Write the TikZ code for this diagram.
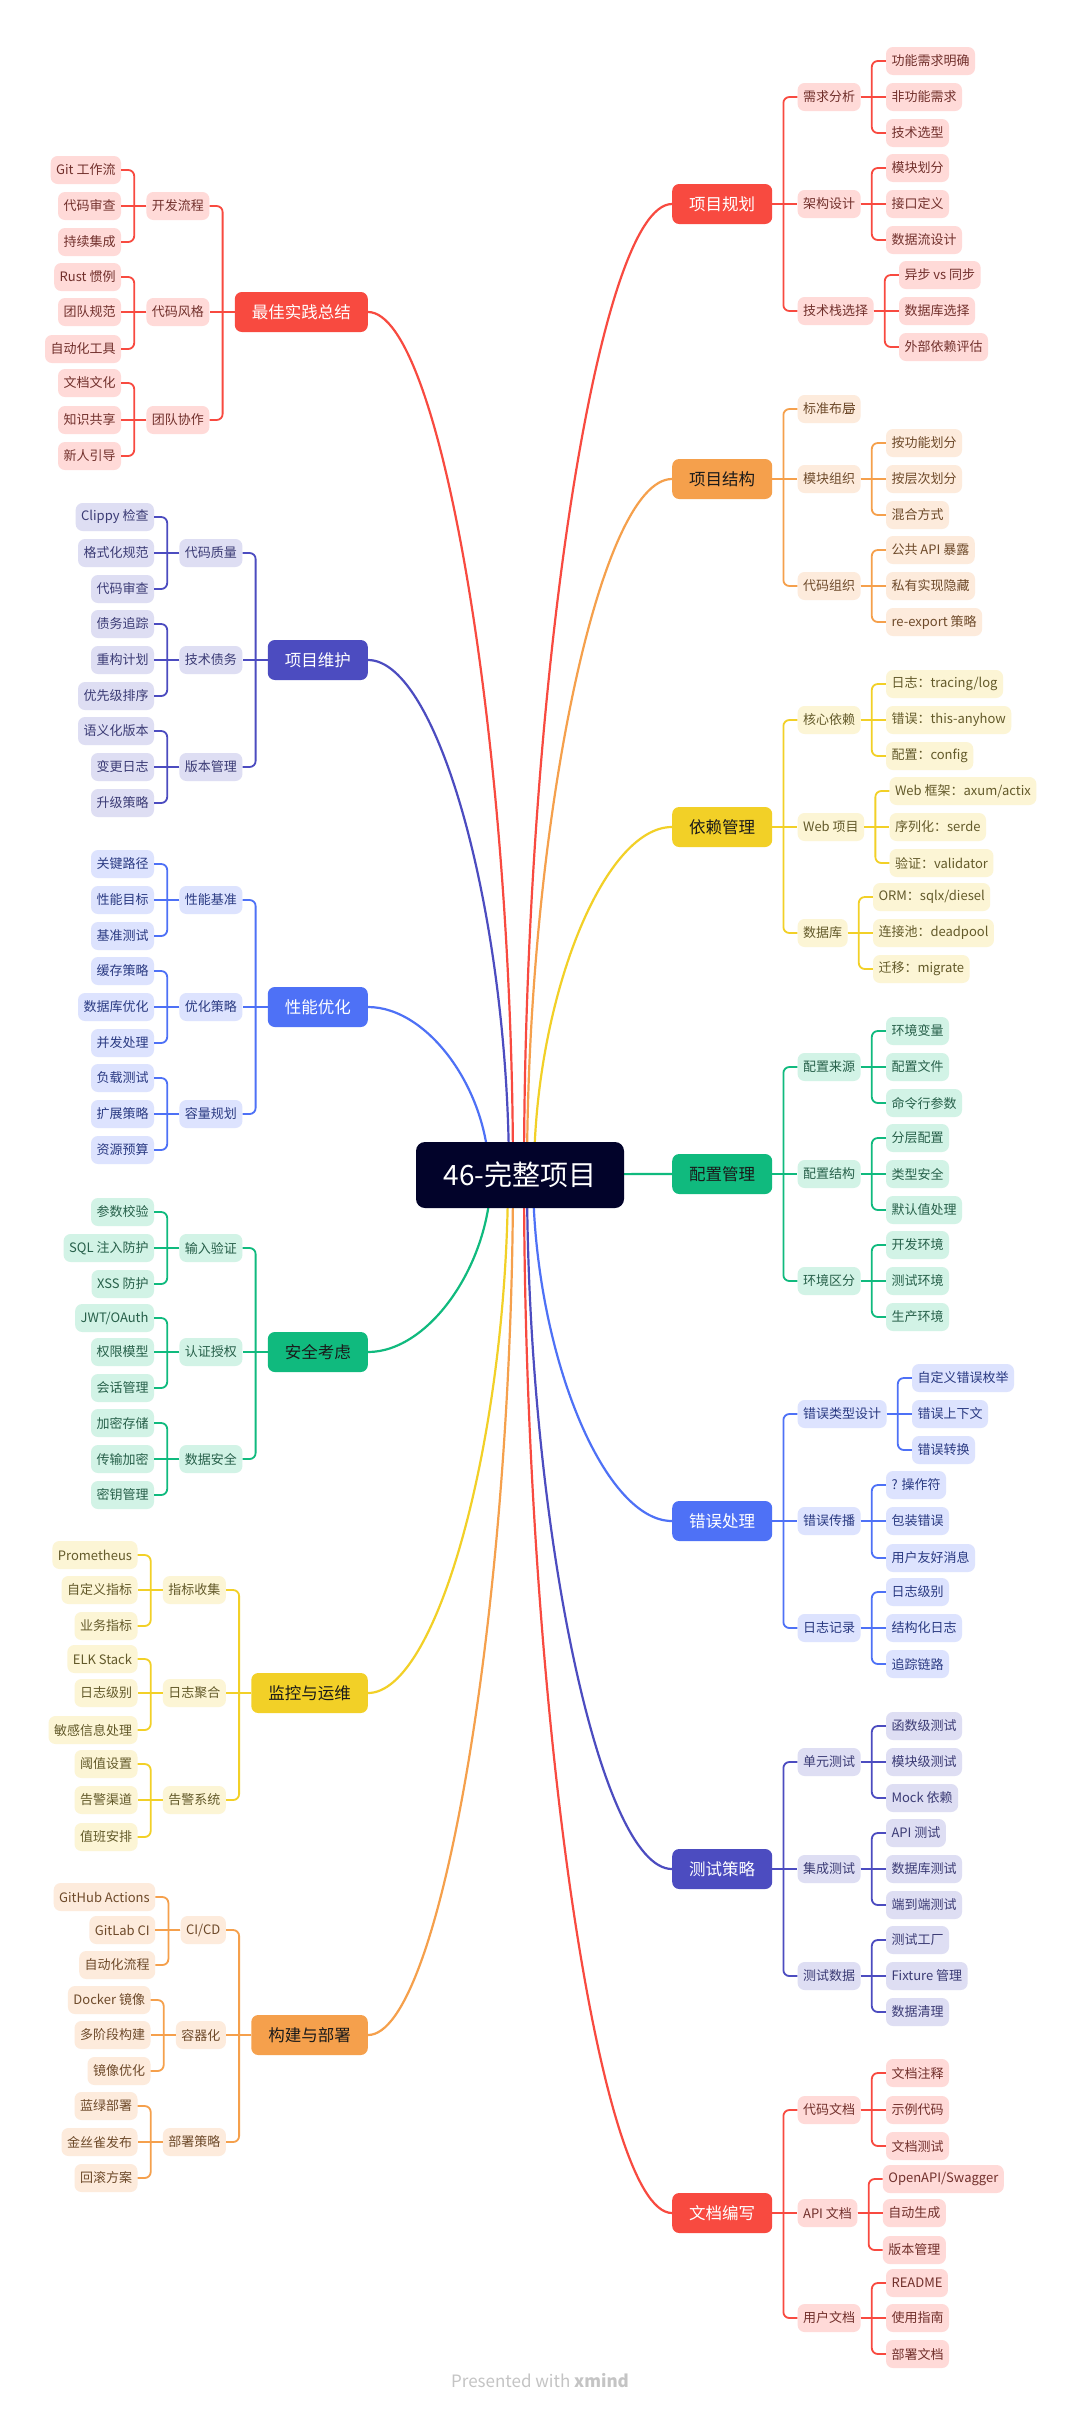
\documentclass[tikz,border=0pt]{standalone}
\usepackage{fontspec}
\setmainfont{Noto Sans CJK SC}
\usetikzlibrary{calc}
\definecolor{redM}{HTML}{F84A40}\definecolor{redL}{HTML}{FFDAD8}\definecolor{redT}{HTML}{72302C}\colorlet{redW}{white}
\definecolor{orangeM}{HTML}{F5A04C}\definecolor{orangeL}{HTML}{FDEBDC}\definecolor{orangeT}{HTML}{6E4A2A}\definecolor{orangeW}{HTML}{1A1A1A}
\definecolor{yellowM}{HTML}{F2D027}\definecolor{yellowL}{HTML}{FCF5D5}\definecolor{yellowT}{HTML}{635A2A}\definecolor{yellowW}{HTML}{1A1A1A}
\definecolor{greenM}{HTML}{10BA7E}\definecolor{greenL}{HTML}{D2F3E6}\definecolor{greenT}{HTML}{27604A}\definecolor{greenW}{HTML}{1A1A1A}
\definecolor{blueM}{HTML}{4E71F6}\definecolor{blueL}{HTML}{DDE3FE}\definecolor{blueT}{HTML}{2A3A82}\colorlet{blueW}{white}
\definecolor{indigoM}{HTML}{4C4CC0}\definecolor{indigoL}{HTML}{DEDEF3}\definecolor{indigoT}{HTML}{3B3B75}\colorlet{indigoW}{white}
\definecolor{rootC}{HTML}{02032A}
\definecolor{footC}{HTML}{C4C4C4}
\tikzset{
  mainbox/.style={rounded corners=7pt,minimum height=40pt,inner xsep=17pt,inner ysep=0pt,font=\fontsize{16.5pt}{19pt}\selectfont},
  subbox/.style={rounded corners=7pt,minimum height=28pt,inner xsep=5.5pt,inner ysep=0pt,font=\fontsize{13pt}{15pt}\selectfont},
  rootbox/.style={rounded corners=9pt,minimum width=208pt,minimum height=66pt,fill=rootC,text=white,font=\fontsize{28pt}{32pt}\selectfont},
  curve/.style={line width=2.2pt},
  branch/.style={line width=1.8pt},
}
\newcommand\mainy{0}
\newcommand\suby{0}
% right side: name, y, colour, text, start x
\newcommand\MR[5]{%
  \node[mainbox,fill=#3M,text=#3W,anchor=west] (#1) at (672,#2) {#4};
  \gdef\mainy{#2}%
  \coordinate (s#1) at (#5,1175);
  \path ($(s#1)!0.5!(#1.west)$) coordinate (mid);
  \draw[curve,#3M] (s#1) .. controls (s#1 |- mid) and (mid |- #1.west) .. (#1.west);
}
\newcommand\CR[5]{%
  \path (#2.east) ++(25,0) coordinate (tmp);
  \node[subbox,fill=#4L,text=#4T,anchor=west] (#1) at (tmp |- 0,#3) {#5};
  \gdef\suby{#3}%
  \ifdim #3pt=\mainy pt
    \draw[branch,#4M] (#2.east) -- (#1.west);
  \else
    \draw[branch,#4M] (#2.east) -- ++(11,0);
    \draw[branch,#4M,rounded corners=6pt] ([xshift=11pt]#2.east) |- (#1.west);
  \fi
}
\newcommand\GR[5]{%
  \path (#2.east) ++(25,0) coordinate (tmp);
  \node[subbox,fill=#4L,text=#4T,anchor=west] (#1) at (tmp |- 0,#3) {#5};
  \ifdim #3pt=\suby pt
    \draw[branch,#4M] (#2.east) -- (#1.west);
  \else
    \draw[branch,#4M] (#2.east) -- ++(11,0);
    \draw[branch,#4M,rounded corners=6pt] ([xshift=11pt]#2.east) |- (#1.west);
  \fi
}
% left side
\newcommand\ML[5]{%
  \node[mainbox,fill=#3M,text=#3W,anchor=east] (#1) at (368,#2) {#4};
  \gdef\mainy{#2}%
  \coordinate (s#1) at (#5,1175);
  \path ($(s#1)!0.5!(#1.east)$) coordinate (mid);
  \draw[curve,#3M] (s#1) .. controls (s#1 |- mid) and (mid |- #1.east) .. (#1.east);
}
\newcommand\CL[5]{%
  \path (#2.west) ++(-25,0) coordinate (tmp);
  \node[subbox,fill=#4L,text=#4T,anchor=east] (#1) at (tmp |- 0,#3) {#5};
  \gdef\suby{#3}%
  \ifdim #3pt=\mainy pt
    \draw[branch,#4M] (#2.west) -- (#1.east);
  \else
    \draw[branch,#4M] (#2.west) -- ++(-12,0);
    \draw[branch,#4M,rounded corners=6pt] ([xshift=-12pt]#2.west) |- (#1.east);
  \fi
}
\newcommand\GL[5]{%
  \path (#2.west) ++(-25,0) coordinate (tmp);
  \node[subbox,fill=#4L,text=#4T,anchor=east] (#1) at (tmp |- 0,#3) {#5};
  \ifdim #3pt=\suby pt
    \draw[branch,#4M] (#2.west) -- (#1.east);
  \else
    \draw[branch,#4M] (#2.west) -- ++(-12,0);
    \draw[branch,#4M,rounded corners=6pt] ([xshift=-12pt]#2.west) |- (#1.east);
  \fi
}
\begin{document}
\begin{tikzpicture}[x=1pt,y=-1pt]
\fill[white] (0,0) rectangle (1080,2415);
\useasboundingbox (0,0) rectangle (1080,2415);
\coordinate (rc) at (520,1175);

% ===== right side =====
\MR{r1}{204}{red}{项目规划}{524}
\CR{r1a}{r1}{97}{red}{需求分析}
\GR{r1a1}{r1a}{61}{red}{功能需求明确}
\GR{r1a2}{r1a}{97}{red}{非功能需求}
\GR{r1a3}{r1a}{133}{red}{技术选型}
\CR{r1b}{r1}{204}{red}{架构设计}
\GR{r1b1}{r1b}{168}{red}{模块划分}
\GR{r1b2}{r1b}{204}{red}{接口定义}
\GR{r1b3}{r1b}{240}{red}{数据流设计}
\CR{r1c}{r1}{311}{red}{技术栈选择}
\GR{r1c1}{r1c}{275}{red}{异步 vs 同步}
\GR{r1c2}{r1c}{311}{red}{数据库选择}
\GR{r1c3}{r1c}{347}{red}{外部依赖评估}

\MR{r2}{479}{orange}{项目结构}{527}
\CR{r2a}{r2}{409}{orange}{标准布局\hspace{17pt}}
\draw[orangeT,line width=1pt] ([xshift=-16pt,yshift=4pt]r2a.east) -- ++(10,0);
\draw[orangeT,line width=1pt] ([xshift=-16pt,yshift=0pt]r2a.east) -- ++(10,0);
\draw[orangeT,line width=1pt] ([xshift=-16pt,yshift=-4pt]r2a.east) -- ++(7,0);
\CR{r2b}{r2}{479}{orange}{模块组织}
\GR{r2b1}{r2b}{443}{orange}{按功能划分}
\GR{r2b2}{r2b}{479}{orange}{按层次划分}
\GR{r2b3}{r2b}{515}{orange}{混合方式}
\CR{r2c}{r2}{586}{orange}{代码组织}
\GR{r2c1}{r2c}{550}{orange}{公共 API 暴露}
\GR{r2c2}{r2c}{586}{orange}{私有实现隐藏}
\GR{r2c3}{r2c}{622}{orange}{re-export 策略}

\MR{r3}{827}{yellow}{依赖管理}{534}
\CR{r3a}{r3}{720}{yellow}{核心依赖}
\GR{r3a1}{r3a}{684}{yellow}{日志：tracing/log}
\GR{r3a2}{r3a}{720}{yellow}{错误：this-anyhow}
\GR{r3a3}{r3a}{756}{yellow}{配置：config}
\CR{r3b}{r3}{827}{yellow}{Web 项目}
\GR{r3b1}{r3b}{791}{yellow}{Web 框架：axum/actix}
\GR{r3b2}{r3b}{827}{yellow}{序列化：serde}
\GR{r3b3}{r3b}{863}{yellow}{验证：validator}
\CR{r3c}{r3}{933}{yellow}{数据库}
\GR{r3c1}{r3c}{897}{yellow}{ORM：sqlx/diesel}
\GR{r3c2}{r3c}{933}{yellow}{连接池：deadpool}
\GR{r3c3}{r3c}{969}{yellow}{迁移：migrate}

\MR{r4}{1174}{green}{配置管理}{560}
\CR{r4a}{r4}{1067}{green}{配置来源}
\GR{r4a1}{r4a}{1031}{green}{环境变量}
\GR{r4a2}{r4a}{1067}{green}{配置文件}
\GR{r4a3}{r4a}{1103}{green}{命令行参数}
\CR{r4b}{r4}{1174}{green}{配置结构}
\GR{r4b1}{r4b}{1138}{green}{分层配置}
\GR{r4b2}{r4b}{1174}{green}{类型安全}
\GR{r4b3}{r4b}{1210}{green}{默认值处理}
\CR{r4c}{r4}{1281}{green}{环境区分}
\GR{r4c1}{r4c}{1245}{green}{开发环境}
\GR{r4c2}{r4c}{1281}{green}{测试环境}
\GR{r4c3}{r4c}{1317}{green}{生产环境}

\MR{r5}{1521}{blue}{错误处理}{533}
\CR{r5a}{r5}{1414}{blue}{错误类型设计}
\GR{r5a1}{r5a}{1378}{blue}{自定义错误枚举}
\GR{r5a2}{r5a}{1414}{blue}{错误上下文}
\GR{r5a3}{r5a}{1450}{blue}{错误转换}
\CR{r5b}{r5}{1521}{blue}{错误传播}
\GR{r5b1}{r5b}{1485}{blue}{? 操作符}
\GR{r5b2}{r5b}{1521}{blue}{包装错误}
\GR{r5b3}{r5b}{1558}{blue}{用户友好消息}
\CR{r5c}{r5}{1628}{blue}{日志记录}
\GR{r5c1}{r5c}{1592}{blue}{日志级别}
\GR{r5c2}{r5c}{1628}{blue}{结构化日志}
\GR{r5c3}{r5c}{1664}{blue}{追踪链路}

\MR{r6}{1869}{indigo}{测试策略}{527}
\CR{r6a}{r6}{1762}{indigo}{单元测试}
\GR{r6a1}{r6a}{1726}{indigo}{函数级测试}
\GR{r6a2}{r6a}{1762}{indigo}{模块级测试}
\GR{r6a3}{r6a}{1798}{indigo}{Mock 依赖}
\CR{r6b}{r6}{1869}{indigo}{集成测试}
\GR{r6b1}{r6b}{1833}{indigo}{API 测试}
\GR{r6b2}{r6b}{1869}{indigo}{数据库测试}
\GR{r6b3}{r6b}{1905}{indigo}{端到端测试}
\CR{r6c}{r6}{1976}{indigo}{测试数据}
\GR{r6c1}{r6c}{1940}{indigo}{测试工厂}
\GR{r6c2}{r6c}{1976}{indigo}{Fixture 管理}
\GR{r6c3}{r6c}{2012}{indigo}{数据清理}

\MR{r7}{2213}{red}{文档编写}{524}
\CR{r7a}{r7}{2110}{red}{代码文档}
\GR{r7a1}{r7a}{2073}{red}{文档注释}
\GR{r7a2}{r7a}{2110}{red}{示例代码}
\GR{r7a3}{r7a}{2146}{red}{文档测试}
\CR{r7b}{r7}{2213}{red}{API 文档}
\GR{r7b1}{r7b}{2179}{red}{OpenAPI/Swagger}
\GR{r7b2}{r7b}{2213}{red}{自动生成}
\GR{r7b3}{r7b}{2250}{red}{版本管理}
\CR{r7c}{r7}{2318}{red}{用户文档}
\GR{r7c1}{r7c}{2283}{red}{README}
\GR{r7c2}{r7c}{2318}{red}{使用指南}
\GR{r7c3}{r7c}{2354}{red}{部署文档}

% ===== left side =====
\ML{l1}{312}{red}{最佳实践总结}{513}
\CL{l1a}{l1}{206}{red}{开发流程}
\GL{l1a1}{l1a}{170}{red}{Git 工作流}
\GL{l1a2}{l1a}{206}{red}{代码审查}
\GL{l1a3}{l1a}{242}{red}{持续集成}
\CL{l1b}{l1}{312}{red}{代码风格}
\GL{l1b1}{l1b}{277}{red}{Rust 惯例}
\GL{l1b2}{l1b}{312}{red}{团队规范}
\GL{l1b3}{l1b}{349}{red}{自动化工具}
\CL{l1c}{l1}{420}{red}{团队协作}
\GL{l1c1}{l1c}{383}{red}{文档文化}
\GL{l1c2}{l1c}{420}{red}{知识共享}
\GL{l1c3}{l1c}{456}{red}{新人引导}

\ML{l2}{660}{indigo}{项目维护}{509}
\CL{l2a}{l2}{553}{indigo}{代码质量}
\GL{l2a1}{l2a}{517}{indigo}{Clippy 检查}
\GL{l2a2}{l2a}{553}{indigo}{格式化规范}
\GL{l2a3}{l2a}{589}{indigo}{代码审查}
\CL{l2b}{l2}{660}{indigo}{技术债务}
\GL{l2b1}{l2b}{624}{indigo}{债务追踪}
\GL{l2b2}{l2b}{660}{indigo}{重构计划}
\GL{l2b3}{l2b}{696}{indigo}{优先级排序}
\CL{l2c}{l2}{767}{indigo}{版本管理}
\GL{l2c1}{l2c}{731}{indigo}{语义化版本}
\GL{l2c2}{l2c}{767}{indigo}{变更日志}
\GL{l2c3}{l2c}{803}{indigo}{升级策略}

\ML{l3}{1007}{blue}{性能优化}{489}
\CL{l3a}{l3}{900}{blue}{性能基准}
\GL{l3a1}{l3a}{864}{blue}{关键路径}
\GL{l3a2}{l3a}{900}{blue}{性能目标}
\GL{l3a3}{l3a}{936}{blue}{基准测试}
\CL{l3b}{l3}{1007}{blue}{优化策略}
\GL{l3b1}{l3b}{971}{blue}{缓存策略}
\GL{l3b2}{l3b}{1007}{blue}{数据库优化}
\GL{l3b3}{l3b}{1043}{blue}{并发处理}
\CL{l3c}{l3}{1114}{blue}{容量规划}
\GL{l3c1}{l3c}{1078}{blue}{负载测试}
\GL{l3c2}{l3c}{1114}{blue}{扩展策略}
\GL{l3c3}{l3c}{1150}{blue}{资源预算}

\ML{l4}{1352}{green}{安全考虑}{491}
\CL{l4a}{l4}{1248}{green}{输入验证}
\GL{l4a1}{l4a}{1212}{green}{参数校验}
\GL{l4a2}{l4a}{1248}{green}{SQL 注入防护}
\GL{l4a3}{l4a}{1284}{green}{XSS 防护}
\CL{l4b}{l4}{1352}{green}{认证授权}
\GL{l4b1}{l4b}{1318}{green}{JWT/OAuth}
\GL{l4b2}{l4b}{1352}{green}{权限模型}
\GL{l4b3}{l4b}{1388}{green}{会话管理}
\CL{l4c}{l4}{1459}{green}{数据安全}
\GL{l4c1}{l4c}{1423}{green}{加密存储}
\GL{l4c2}{l4c}{1459}{green}{传输加密}
\GL{l4c3}{l4c}{1495}{green}{密钥管理}

\ML{l5}{1693}{yellow}{监控与运维}{508}
\CL{l5a}{l5}{1590}{yellow}{指标收集}
\GL{l5a1}{l5a}{1555}{yellow}{Prometheus}
\GL{l5a2}{l5a}{1590}{yellow}{自定义指标}
\GL{l5a3}{l5a}{1626}{yellow}{业务指标}
\CL{l5b}{l5}{1693}{yellow}{日志聚合}
\GL{l5b1}{l5b}{1659}{yellow}{ELK Stack}
\GL{l5b2}{l5b}{1693}{yellow}{日志级别}
\GL{l5b3}{l5b}{1730}{yellow}{敏感信息处理}
\CL{l5c}{l5}{1800}{yellow}{告警系统}
\GL{l5c1}{l5c}{1764}{yellow}{阈值设置}
\GL{l5c2}{l5c}{1800}{yellow}{告警渠道}
\GL{l5c3}{l5c}{1837}{yellow}{值班安排}

\ML{l6}{2035}{orange}{构建与部署}{513}
\CL{l6a}{l6}{1930}{orange}{CI/CD}
\GL{l6a1}{l6a}{1897}{orange}{GitHub Actions}
\GL{l6a2}{l6a}{1930}{orange}{GitLab CI}
\GL{l6a3}{l6a}{1965}{orange}{自动化流程}
\CL{l6b}{l6}{2035}{orange}{容器化}
\GL{l6b1}{l6b}{2000}{orange}{Docker 镜像}
\GL{l6b2}{l6b}{2035}{orange}{多阶段构建}
\GL{l6b3}{l6b}{2071}{orange}{镜像优化}
\CL{l6c}{l6}{2142}{orange}{部署策略}
\GL{l6c1}{l6c}{2106}{orange}{蓝绿部署}
\GL{l6c2}{l6c}{2142}{orange}{金丝雀发布}
\GL{l6c3}{l6c}{2178}{orange}{回滚方案}

% root
\node[rootbox] (root) at (rc) {46-完整项目};
% footer
\node[text=footC,font=\fontsize{17pt}{20pt}\selectfont] (foot) at (540,2381) {Presented with \textbf{xmind}};
\end{tikzpicture}
\end{document}
